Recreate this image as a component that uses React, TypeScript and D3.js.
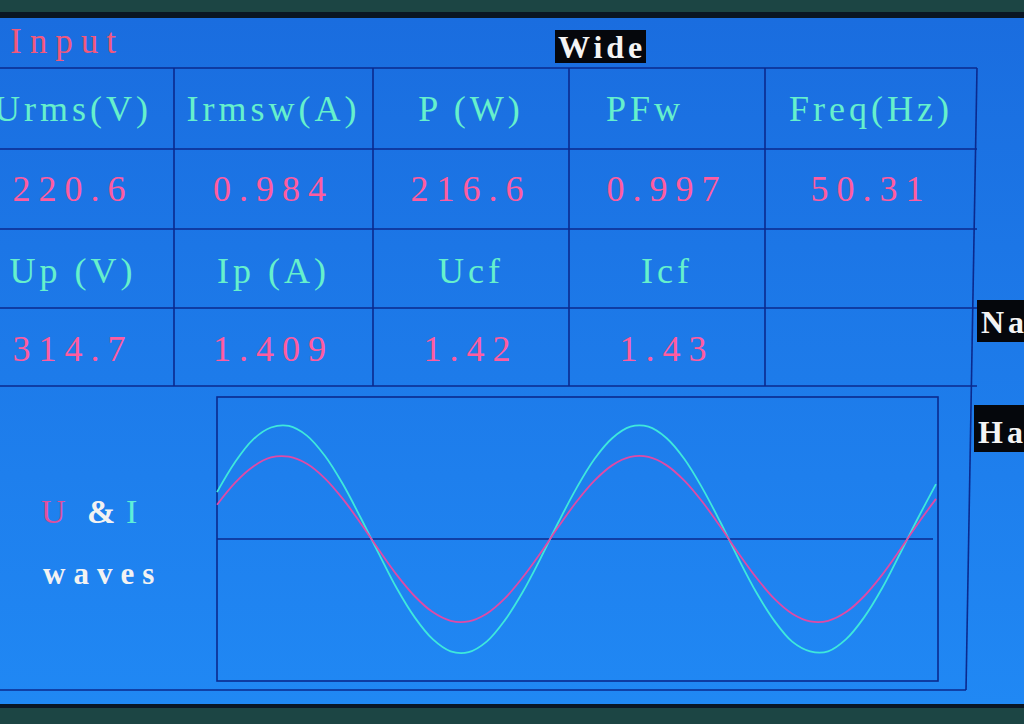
import { useRef, useEffect } from "react";
import * as d3 from "d3";

// table texts
const headersTop = ["Urms(V)", "Irmsw(A)", "P (W)", "PFw", "Freq(Hz)"];
const valuesTop = ["220.6", "0.984", "216.6", "0.997", "50.31"];
const headersBottom = ["Up (V)", "Ip (A)", "Ucf", "Icf"];
const valuesBottom = ["314.7", "1.409", "1.42", "1.43"];

// wave samples (time in ms)
const timeMs = [
  0, 1, 2, 3, 4, 5, 6, 7, 8, 9, 10, 11, 12, 13, 14, 15, 16, 17, 18, 19, 20,
  21, 22, 23, 24, 25, 26, 27, 28, 29, 30, 31, 32, 33, 34, 35, 36, 37, 38, 39, 40,
];
const voltage = [
  130, 213, 274, 309, 312, 285, 230, 152, 59, -41, -136, -217, -277, -310, -312,
  -283, -226, -146, -53, 47, 141, 221, 280, 311, 311, 280, 221, 141, 47, -53,
  -146, -226, -283, -312, -310, -277, -217, -136, -41, 59, 152,
];
const current = [
  0.58, 0.95, 1.23, 1.38, 1.4, 1.28, 1.03, 0.68, 0.26, -0.18, -0.61, -0.97,
  -1.24, -1.39, -1.4, -1.27, -1.01, -0.66, -0.24, 0.21, 0.63, 0.99, 1.25, 1.39,
  1.39, 1.25, 0.99, 0.63, 0.21, -0.24, -0.66, -1.01, -1.27, -1.39, -1.39, -1.24,
  -0.97, -0.61, -0.18, 0.26, 0.68,
];

const W = 1024;
const H = 724;

export default function App() {
  const ref = useRef(null);

  useEffect(() => {
    const svg = d3.select(ref.current);
    svg.selectAll("*").remove();

    const defs = svg.append("defs");
    const grad = defs
      .append("linearGradient")
      .attr("id", "screen")
      .attr("x1", 0)
      .attr("y1", 0)
      .attr("x2", 0)
      .attr("y2", 1);
    grad.append("stop").attr("offset", "0%").attr("stop-color", "#1a6ddf");
    grad.append("stop").attr("offset", "100%").attr("stop-color", "#2088f4");

    // bezel + screen
    svg.append("rect").attr("width", W).attr("height", H).attr("fill", "#1c4544");
    svg.append("rect").attr("y", 12).attr("width", W).attr("height", 696).attr("fill", "#0a1624");
    svg
      .append("rect")
      .attr("y", 18)
      .attr("width", W)
      .attr("height", 686)
      .attr("fill", "url(#screen)");

    const lineColor = "#0b2a8e";
    const grid = svg.append("g").attr("stroke", lineColor).attr("stroke-width", 1.6).attr("fill", "none");

    // table rows / columns
    const rowY = [68, 149, 229, 308, 386];
    const colX = [-20, 174, 373, 569, 765, 977];
    rowY.forEach((y) => grid.append("line").attr("x1", 0).attr("x2", 977).attr("y1", y).attr("y2", y));
    colX.slice(1, 5).forEach((x) =>
      grid.append("line").attr("x1", x).attr("x2", x).attr("y1", 68).attr("y2", 386)
    );
    grid.append("line").attr("x1", 977).attr("x2", 966).attr("y1", 68).attr("y2", 690);
    grid.append("line").attr("x1", 0).attr("x2", 966).attr("y1", 690).attr("y2", 690);

    const centers = colX.slice(0, 5).map((x, i) => (x + colX[i + 1]) / 2);

    const font = "'Liberation Serif', 'Times New Roman', serif";
    const cyanText = "#66f0cc";
    const pinkText = "#ff5c9f";

    const putRow = (labels, y, color, spacing) => {
      svg
        .append("g")
        .selectAll("text")
        .data(labels)
        .join("text")
        .attr("x", (d, i) => centers[i] + (i === 0 ? -4 : 0) + (d === "PFw" ? -22 : 0))
        .attr("y", y)
        .attr("text-anchor", "middle")
        .attr("font-family", font)
        .attr("font-size", 36)
        .attr("letter-spacing", spacing)
        .style("white-space", "pre")
        .attr("fill", color)
        .text((d) => d);
    };
    putRow(headersTop, 121, cyanText, 4);
    putRow(valuesTop, 201, pinkText, 8);
    putRow(headersBottom, 283, cyanText, 4);
    putRow(valuesBottom, 361, pinkText, 8);

    // header labels
    svg
      .append("text")
      .attr("x", 10)
      .attr("y", 53)
      .attr("font-family", font)
      .attr("font-size", 35)
      .attr("letter-spacing", 8)
      .attr("fill", "#f2587c")
      .text("Input");

    const tag = (x, y, w, h, label, tx, ty) => {
      svg.append("rect").attr("x", x).attr("y", y).attr("width", w).attr("height", h).attr("fill", "#05070c");
      svg
        .append("text")
        .attr("x", tx)
        .attr("y", ty)
        .attr("font-family", font)
        .attr("font-weight", "bold")
        .attr("font-size", 32)
        .attr("letter-spacing", 4)
        .attr("fill", "#f4f4f4")
        .text(label);
    };
    tag(555, 30, 91, 33, "Wide", 558, 58);
    tag(977, 300, 47, 42, "Na", 981, 333);
    tag(974, 405, 50, 47, "Ha:", 978, 443);

    // wave legend
    const legend = svg.append("g").attr("font-family", font).attr("font-size", 34);
    legend.append("text").attr("x", 41).attr("y", 523).attr("fill", "#e0509c").text("U");
    legend.append("text").attr("x", 87).attr("y", 523).attr("fill", "#f2f2f2").attr("font-weight", "bold").text("&");
    legend.append("text").attr("x", 126).attr("y", 523).attr("fill", "#5eeed8").text("I");
    svg
      .append("text")
      .attr("x", 43)
      .attr("y", 584)
      .attr("font-family", font)
      .attr("font-weight", "bold")
      .attr("font-size", 31)
      .attr("letter-spacing", 8)
      .attr("fill", "#f2f2f2")
      .text("waves");

    // wave plot
    const x = d3.scaleLinear().domain([0, 40]).range([217, 936]);
    const yU = d3.scaleLinear().domain([-542, 542]).range([682, 396]);
    const yI = d3.scaleLinear().domain([-1.77, 1.77]).range([682, 396]);

    svg
      .append("rect")
      .attr("x", 217)
      .attr("y", 397)
      .attr("width", 721)
      .attr("height", 284)
      .attr("fill", "none")
      .attr("stroke", lineColor)
      .attr("stroke-width", 1.6);
    svg
      .append("line")
      .attr("x1", x(0))
      .attr("x2", x(40) - 3)
      .attr("y1", yU(0))
      .attr("y2", yU(0))
      .attr("stroke", lineColor)
      .attr("stroke-width", 1.6);

    const uLine = d3
      .line()
      .x((d, i) => x(timeMs[i]))
      .y((d) => yU(d))
      .curve(d3.curveCatmullRom);
    const iLine = d3
      .line()
      .x((d, i) => x(timeMs[i]))
      .y((d) => yI(d))
      .curve(d3.curveCatmullRom);

    svg
      .append("path")
      .attr("d", iLine(current))
      .attr("fill", "none")
      .attr("stroke", "#3ee8dc")
      .attr("stroke-width", 1.8);
    svg
      .append("path")
      .attr("d", uLine(voltage))
      .attr("fill", "none")
      .attr("stroke", "#e04aa6")
      .attr("stroke-width", 1.8);
  }, []);

  return (
    <svg
      ref={ref}
      width={W}
      height={H}
      style={{ position: "absolute", left: 0, top: 0, display: "block" }}
    ></svg>
  );
}
